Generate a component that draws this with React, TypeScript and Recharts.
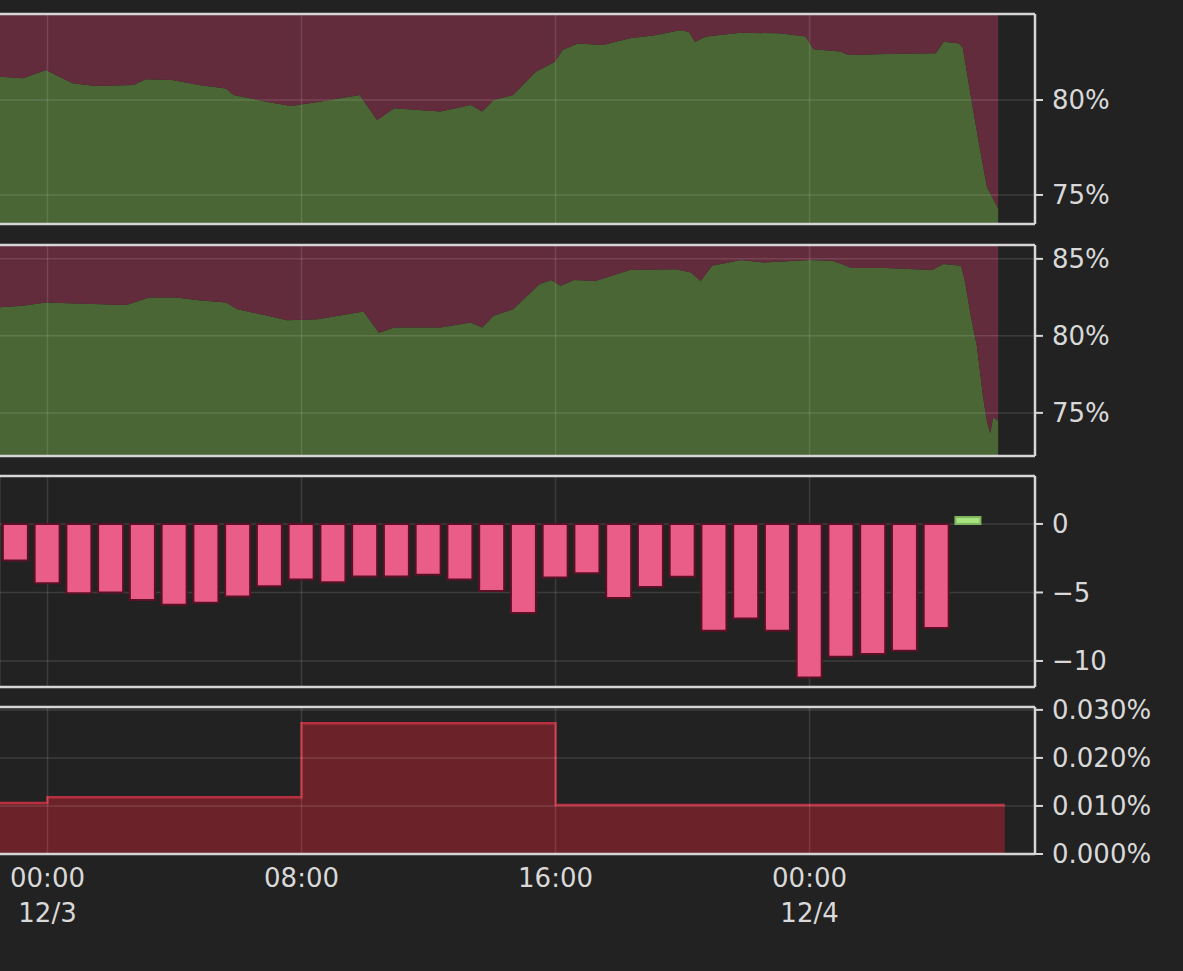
import React from 'react';
import { ComposedChart, Area, Bar, Cell, XAxis, YAxis, ReferenceLine, CartesianGrid } from 'recharts';

// ---------- shared axis data ----------
const X_MIN = -1.496; // hours relative to 12/3 00:00
const X_MAX = 31.1;
const gridHours = [0, 8, 16, 24];
const xTickTimes = ['00:00', '08:00', '16:00', '00:00'];
const xTickDates = ['12/3', '', '', '12/4'];

// ---------- panel 1: long ratio (%) ----------
const ratio1Hours = [-1.6, -0.77, -0.05, 0.79, 1.52, 2.72, 3.08, 3.93, 4.77, 5.62, 5.86, 6.94, 7.67, 8.51, 9.83, 10.38, 10.92, 12.37, 13.33, 13.69, 14.05, 14.66, 15.38, 15.98, 16.22, 16.7, 17.5, 18.34, 19.18, 19.91, 20.2, 20.39, 20.75, 21.83, 23.04, 23.88, 24.12, 24.97, 25.21, 26.42, 27.98, 28.22, 28.71, 28.83, 29.1, 29.37, 29.59, 29.94];
const ratio1Long = [81.23, 81.14, 81.58, 80.88, 80.74, 80.79, 81.1, 81.05, 80.79, 80.6, 80.26, 79.9, 79.68, 79.9, 80.26, 78.95, 79.56, 79.39, 79.74, 79.39, 80.0, 80.26, 81.49, 82.02, 82.63, 82.98, 82.9, 83.25, 83.42, 83.68, 83.6, 83.07, 83.34, 83.54, 83.51, 83.34, 82.67, 82.55, 82.37, 82.42, 82.46, 83.07, 82.98, 82.72, 80.0, 77.4, 75.4, 74.3];
const ratio1Domain = [73.47, 84.53];
const ratio1Ticks = [75, 80];

// ---------- panel 2: long ratio (%) ----------
const ratio2Hours = [-1.6, -0.77, -0.05, 0.91, 2.48, 3.2, 4.05, 4.77, 5.62, 5.98, 6.94, 7.54, 8.51, 9.95, 10.44, 10.92, 12.37, 13.33, 13.69, 14.05, 14.66, 15.5, 15.86, 16.16, 16.58, 17.25, 18.34, 19.79, 20.27, 20.57, 20.93, 21.83, 22.56, 24.0, 24.73, 25.33, 26.42, 27.86, 28.22, 28.77, 28.9, 29.06, 29.27, 29.46, 29.59, 29.69, 29.78, 29.94];
const ratio2Long = [81.84, 81.95, 82.16, 82.1, 82.01, 82.49, 82.49, 82.32, 82.16, 81.73, 81.3, 81.02, 81.08, 81.58, 80.21, 80.54, 80.54, 80.86, 80.54, 81.3, 81.73, 83.36, 83.62, 83.25, 83.62, 83.57, 84.27, 84.33, 84.11, 83.57, 84.55, 84.92, 84.76, 84.92, 84.87, 84.4, 84.4, 84.27, 84.66, 84.55, 83.5, 81.5, 79.35, 76.1, 74.4, 73.7, 74.7, 74.5];
const ratio2Domain = [72.2, 85.9];
const ratio2Ticks = [75, 80, 85];

// ---------- panel 3: hourly change ----------
const barHours = [-1, 0, 1, 2, 3, 4, 5, 6, 7, 8, 9, 10, 11, 12, 13, 14, 15, 16, 17, 18, 19, 20, 21, 22, 23, 24, 25, 26, 27, 28, 29];
const barChange = [-2.67, -4.33, -5.06, -5.0, -5.55, -5.9, -5.75, -5.3, -4.55, -4.06, -4.25, -3.84, -3.84, -3.7, -4.06, -4.9, -6.5, -3.9, -3.6, -5.4, -4.6, -3.85, -7.8, -6.9, -7.8, -11.2, -9.7, -9.5, -9.25, -7.6, 0.5];
const barDomain = [-11.9, 3.5];
const barTicks = [-10, -5, 0];

// ---------- panel 4: funding rate (%) ----------
const fundingHours = [-8, 0, 8, 16, 24, 30.15];
const fundingRate = [0.0106, 0.0118, 0.0272, 0.0102, 0.0102, 0.0102];
const fundingDomain = [0, 0.0306];
const fundingTicks = [0, 0.01, 0.02, 0.03];

// ---------- styles ----------
const BG = '#222222';
const BORDER = '#d6d6d6';
const TEXT = '#d9d9d9';
const FONT = 'DejaVu Sans, sans-serif';
const FS = 26;
const GREEN = '#4a6634';
const MAROON = '#632c3c';
const PINK = '#e95d88';
const PINK_EDGE = '#5c1026';
const LIME = '#a6e37f';
const FUND_FILL = '#6b2229';
const FUND_LINE = '#b8303f';
const GRID = 'rgba(255,255,255,0.12)';

const W = 1183;
const YW = 148;

const ratio1Data = ratio1Hours.map((h, i) => ({ hour: h, long: ratio1Long[i], short: 100 - ratio1Long[i] }));
const ratio2Data = ratio2Hours.map((h, i) => ({ hour: h, long: ratio2Long[i], short: 100 - ratio2Long[i] }));
const barData = barHours.map((h, i) => ({ hour: h, change: barChange[i] }));
const fundingData = fundingHours.map((h, i) => ({ hour: h, rate: fundingRate[i] }));

const pct0 = (v: number) => `${v}%`;
const signed = (v: number) => (v < 0 ? `\u2212${Math.abs(v)}` : `${v}`);
const pct3 = (v: number) => `${v.toFixed(3)}%`;

const yAxisProps = (domain: number[], ticks: number[], fmt: (v: number) => string) => ({
  orientation: 'right' as const,
  width: YW,
  type: 'number' as const,
  domain,
  ticks,
  interval: 0 as const,
  allowDataOverflow: true,
  tickFormatter: fmt,
  axisLine: { stroke: BORDER, strokeWidth: 2.5 },
  tickLine: { stroke: BORDER, strokeWidth: 2 },
  tickSize: 8,
  tickMargin: 9,
  tick: { fill: TEXT, fontSize: FS, fontFamily: FONT },
});

const frameLines = (domain: number[], ticks: number[]) => [
  ...ticks.map((t) => (
    <ReferenceLine key={`h${t}`} y={t} stroke={GRID} strokeWidth={1.5} ifOverflow="visible" />
  )),
  ...gridHours.map((h) => (
    <ReferenceLine key={`v${h}`} x={h} stroke={GRID} strokeWidth={1.5} ifOverflow="visible" />
  )),
  <ReferenceLine key="top" y={domain[1]} stroke={BORDER} strokeWidth={2.5} ifOverflow="visible" />,
  <ReferenceLine key="bottom" y={domain[0]} stroke={BORDER} strokeWidth={2.5} ifOverflow="visible" />,
];

const TimeTick = (props: any) => {
  const { x, y, payload } = props;
  const i = gridHours.indexOf(payload.value);
  if (i < 0) return null;
  return (
    <g>
      <text x={x} y={y + 33} textAnchor="middle" fill={TEXT} fontSize={FS} fontFamily={FONT}>
        {xTickTimes[i]}
      </text>
      {xTickDates[i] ? (
        <text x={x} y={y + 68} textAnchor="middle" fill={TEXT} fontSize={FS} fontFamily={FONT}>
          {xTickDates[i]}
        </text>
      ) : null}
    </g>
  );
};

const hiddenX = (
  <XAxis type="number" dataKey="hour" domain={[X_MIN, X_MAX]} ticks={gridHours} allowDataOverflow hide />
);

export default function App() {
  return (
    <div
      style={{
        position: 'absolute',
        left: 0,
        top: 0,
        width: W,
        height: 971,
        background: BG,
        overflow: 'hidden',
      }}
    >
      <div style={{ position: 'absolute', left: 0, top: -6 }}>
        <ComposedChart width={W} height={250} data={ratio1Data} margin={{ top: 20, right: 0, bottom: 20, left: 0 }}>
          {hiddenX}
          <YAxis {...yAxisProps(ratio1Domain, ratio1Ticks, pct0)} />
          <Area type="linear" dataKey="long" stackId="s" fill={GREEN} fillOpacity={1} stroke="none" isAnimationActive={false} />
          <Area type="linear" dataKey="short" stackId="s" fill={MAROON} fillOpacity={1} stroke="none" isAnimationActive={false} />
          {frameLines(ratio1Domain, ratio1Ticks)}
        </ComposedChart>
      </div>
      <div style={{ position: 'absolute', left: 0, top: 225 }}>
        <ComposedChart width={W} height={251} data={ratio2Data} margin={{ top: 20, right: 0, bottom: 20, left: 0 }}>
          {hiddenX}
          <YAxis {...yAxisProps(ratio2Domain, ratio2Ticks, pct0)} />
          <Area type="linear" dataKey="long" stackId="s" fill={GREEN} fillOpacity={1} stroke="none" isAnimationActive={false} />
          <Area type="linear" dataKey="short" stackId="s" fill={MAROON} fillOpacity={1} stroke="none" isAnimationActive={false} />
          {frameLines(ratio2Domain, ratio2Ticks)}
        </ComposedChart>
      </div>
      <div style={{ position: 'absolute', left: 0, top: 456 }}>
        <ComposedChart width={W} height={251} data={barData} margin={{ top: 20, right: 0, bottom: 20, left: 0 }}>
          <CartesianGrid stroke={GRID} strokeWidth={1.5} horizontal vertical />
          {hiddenX}
          <YAxis {...yAxisProps(barDomain, barTicks, signed)} />
          <Bar dataKey="change" barSize={25} isAnimationActive={false}>
            {barChange.map((v, i) => (
              <Cell key={i} fill={v >= 0 ? LIME : PINK} stroke={v >= 0 ? '#7fb460' : PINK_EDGE} strokeWidth={2} />
            ))}
          </Bar>
          <ReferenceLine y={barDomain[1]} stroke={BORDER} strokeWidth={2.5} ifOverflow="visible" />
          <ReferenceLine y={barDomain[0]} stroke={BORDER} strokeWidth={2.5} ifOverflow="visible" />
        </ComposedChart>
      </div>
      <div style={{ position: 'absolute', left: 0, top: 687 }}>
        <ComposedChart width={W} height={267} data={fundingData} margin={{ top: 20, right: 0, bottom: 0, left: 0 }}>
          <XAxis
            type="number"
            dataKey="hour"
            domain={[X_MIN, X_MAX]}
            ticks={gridHours}
            interval={0}
            allowDataOverflow
            height={100}
            axisLine={false}
            tickLine={false}
            tickSize={0}
            tickMargin={0}
            tick={<TimeTick />}
          />
          <YAxis {...yAxisProps(fundingDomain, fundingTicks, pct3)} />
          <Area type="stepAfter" dataKey="rate" fill={FUND_FILL} fillOpacity={1} stroke={FUND_LINE} strokeWidth={2.5} isAnimationActive={false} />
          {frameLines(fundingDomain, fundingTicks)}
        </ComposedChart>
      </div>
    </div>
  );
}
